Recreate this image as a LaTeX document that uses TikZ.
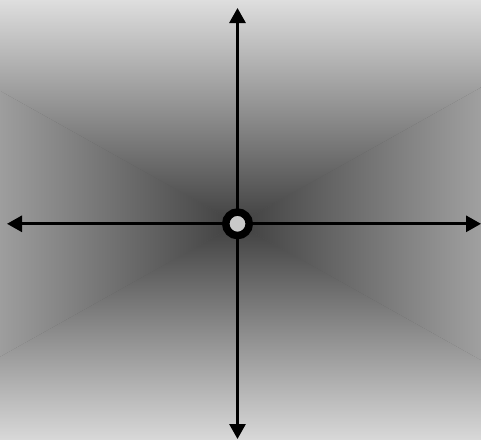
\documentclass[tikz,border=0pt]{standalone}
\usetikzlibrary{arrows.meta}
\definecolor{edgegray}{gray}{0.87}
\definecolor{centergray}{gray}{0.25}
\definecolor{dotfill}{gray}{0.79}
\begin{document}
\begin{tikzpicture}[x=1pt,y=-1pt,
  axis/.style={line width=2.9pt,-{Triangle[length=15pt,width=16pt]}},
  dot/.style={circle,draw=black,line width=7.5pt,fill=dotfill,minimum size=23.5pt,inner sep=0pt}]
\useasboundingbox (0,0) rectangle (481,439);
\begin{scope}
\clip (0,0) rectangle (481,439);
\coordinate (c) at (237.5,223.8);
\coordinate (tl) at (-162.5,-0.2);
\coordinate (tr) at (637.5,-0.2);
\coordinate (bl) at (-162.5,447.8);
\coordinate (br) at (637.5,447.8);
\fill[gray!70!black] (0,0) rectangle (481,439);
\shade[top color=edgegray,bottom color=centergray] (c) -- (tl) -- (tr) -- cycle;
\shade[top color=centergray,bottom color=edgegray] (c) -- (bl) -- (br) -- cycle;
\shade[left color=edgegray,right color=centergray] (c) -- (tl) -- (bl) -- cycle;
\shade[left color=centergray,right color=edgegray] (c) -- (tr) -- (br) -- cycle;
\end{scope}
\coordinate (left) at (7,223.8);
\coordinate (right) at (481,223.8);
\coordinate (top) at (237.5,8);
\coordinate (bottom) at (237.5,439);
\draw[axis] (c) -- (left);
\draw[axis] (c) -- (right);
\draw[axis] (c) -- (top);
\draw[axis] (c) -- (bottom);
\node[dot] (o) at (c) {};
\end{tikzpicture}
\end{document}
